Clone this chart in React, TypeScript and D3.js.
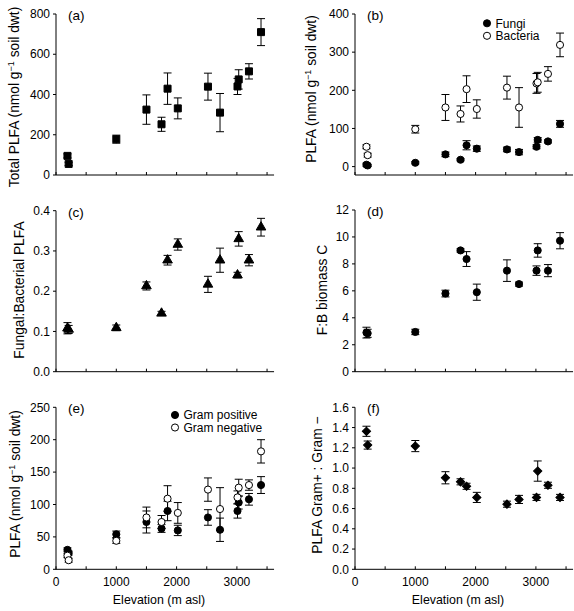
import React from "react";
import * as d3 from "d3";

// ---------- data ----------
const elevation = [190, 210, 1000, 1500, 1750, 1850, 2020, 2520, 2720, 3010, 3030, 3200, 3400];

const totalPLFA = [95, 55, 178, 325, 252, 429, 331, 439, 310, 440, 475, 515, 710];
const totalPLFAErr = [10, 8, 20, 73, 35, 78, 52, 67, 95, 40, 48, 38, 67];

const fungi = [5, 3, 10, 32, 18, 56, 47, 45, 38, 52, 70, 66, 112];
const fungiErr = [4, 3, 3, 6, 3, 12, 7, 6, 7, 5, 6, 4, 9];
const bacteria = [52, 30, 98, 155, 138, 203, 151, 207, 155, 218, 221, 243, 319];
const bacteriaErr = [5, 5, 10, 34, 21, 35, 24, 30, 52, 26, 26, 19, 31];

const fbPLFA = [0.108, 0.105, 0.109, 0.213, 0.145, 0.277, 0.316, 0.217, 0.277, 0.24, 0.33, 0.277, 0.359];
const fbPLFAErr = [0.014, 0.01, 0.007, 0.01, 0.005, 0.012, 0.014, 0.02, 0.03, 0.007, 0.018, 0.014, 0.022];

const fbBiomassC = [2.9, 2.85, 2.95, 5.8, 9.0, 8.36, 5.9, 7.5, 6.5, 7.5, 9.0, 7.5, 9.72];
const fbBiomassCErr = [0.4, 0.3, 0.2, 0.25, 0.12, 0.55, 0.6, 0.8, 0.15, 0.35, 0.5, 0.45, 0.6];

const gramPos = [30, 25, 54, 73, 63, 90, 60, 80, 61, 90, 103, 108, 130];
const gramPosErr = [3, 3, 5, 17, 6, 15, 8, 12, 18, 11, 10, 9, 13];
const gramNeg = [21, 14, 44, 80, 73, 109, 87, 123, 93, 111, 126, 130, 182];
const gramNegErr = [3, 3, 4, 16, 10, 20, 16, 18, 33, 10, 13, 8, 18];

const gramRatio = [1.363, 1.227, 1.217, 0.904, 0.864, 0.82, 0.71, 0.643, 0.69, 0.71, 0.97, 0.83, 0.71];
const gramRatioErr = [0.05, 0.04, 0.055, 0.06, 0.03, 0.03, 0.05, 0.03, 0.04, 0.03, 0.1, 0.03, 0.03];

const xTicks = [0, 500, 1000, 1500, 2000, 2500, 3000, 3500];
const xTickLabels = [0, 1000, 2000, 3000];

const ticksA = [0, 200, 400, 600, 800];
const ticksB = [0, 100, 200, 300, 400];
const ticksC = [0, 0.1, 0.2, 0.3, 0.4];
const ticksD = [0, 2, 4, 6, 8, 10, 12];
const ticksE = [0, 50, 100, 150, 200, 250];
const ticksF = [0, 0.2, 0.4, 0.6, 0.8, 1.0, 1.2, 1.4, 1.6];

const FONT = "'Liberation Sans', Arial, Helvetica, sans-serif";

type Shape = "square" | "circle" | "triangle" | "diamond";
type Series = { values: number[]; errors: number[]; shape: Shape; filled: boolean };
type LegendItem = { label: string; filled: boolean };

const symbolPath = (shape: Shape) => {
  if (shape === "square") return d3.symbol().type(d3.symbolSquare).size(49)()!;
  if (shape === "circle") return d3.symbol().type(d3.symbolCircle).size(40)()!;
  if (shape === "triangle") return d3.symbol().type(d3.symbolTriangle).size(40)()!;
  return d3.symbol().type(d3.symbolSquare).size(34)()!;
};

type PanelProps = {
  x0: number;
  yTop: number;
  yBottom: number;
  yDomain: [number, number];
  yTicks: number[];
  fmt: (v: number) => string;
  tag: string;
  yLabel: React.ReactNode;
  yLabelX: number;
  yLabelY: number;
  series: Series[];
  showXLabels: boolean;
  legend?: { items: LegendItem[]; x: number; y: number };
};

function Panel(p: PanelProps) {
  const pxPerM = 0.0603;
  const x = d3.scaleLinear().domain([0, 3500]).range([p.x0, p.x0 + 3500 * pxPerM]);
  const y = d3.scaleLinear().domain(p.yDomain).range([p.yBottom, p.yTop]);
  const xEnd = x(3500) + 7;
  const yAxisTop = y(p.yTicks[p.yTicks.length - 1]);
  const cap = 4;
  return (
    <g fontFamily={FONT} fill="#000">
      {/* axes */}
      <line x1={p.x0} x2={p.x0} y1={yAxisTop} y2={p.yBottom} stroke="#000" strokeWidth={1} />
      <line x1={p.x0} x2={xEnd} y1={p.yBottom} y2={p.yBottom} stroke="#000" strokeWidth={1} />
      {p.yTicks.map((t) => (
        <g key={"yt" + t}>
          <line x1={p.x0 - 3} x2={p.x0} y1={y(t)} y2={y(t)} stroke="#000" />
          <text x={p.x0 - 6} y={y(t)} dy="0.35em" textAnchor="end" fontSize={12}>
            {p.fmt(t)}
          </text>
        </g>
      ))}
      {xTicks.map((t) => (
        <line key={"xt" + t} x1={x(t)} x2={x(t)} y1={p.yBottom} y2={p.yBottom - 3} stroke="#000" />
      ))}
      {p.showXLabels &&
        xTickLabels.map((t) => (
          <text key={"xl" + t} x={x(t)} y={p.yBottom + 17} textAnchor="middle" fontSize={12}>
            {t}
          </text>
        ))}
      {p.showXLabels && (
        <text x={p.x0 + 103} y={p.yBottom + 35} textAnchor="middle" fontSize={12.4}>
          Elevation (m asl)
        </text>
      )}
      <text
        transform={`translate(${p.yLabelX},${p.yLabelY}) rotate(-90)`}
        textAnchor="middle"
        fontSize={13.8}
      >
        {p.yLabel}
      </text>
      <text x={p.x0 + 12} y={p.yTop + 6} fontSize={13.5}>
        {p.tag}
      </text>
      {/* error bars */}
      {p.series.map((s, si) =>
        s.values.map((v, i) => {
          const cx = x(elevation[i]);
          const lo = y(v - s.errors[i]);
          const hi = y(v + s.errors[i]);
          return (
            <g key={`e${si}-${i}`} stroke="#000" strokeWidth={1}>
              <line x1={cx} x2={cx} y1={lo} y2={hi} />
              <line x1={cx - cap} x2={cx + cap} y1={lo} y2={lo} />
              <line x1={cx - cap} x2={cx + cap} y1={hi} y2={hi} />
            </g>
          );
        })
      )}
      {/* markers */}
      {p.series.map((s, si) =>
        s.values.map((v, i) => (
          <path
            key={`m${si}-${i}`}
            d={symbolPath(s.shape)}
            transform={`translate(${x(elevation[i])},${y(v)})${s.shape === "diamond" ? " rotate(45)" : ""}`}
            fill={s.filled ? "#000" : "#fff"}
            stroke="#000"
            strokeWidth={1}
          />
        ))
      )}
      {p.legend &&
        p.legend.items.map((it, i) => (
          <g key={"lg" + i}>
            <path
              d={symbolPath("circle")}
              transform={`translate(${p.legend!.x},${p.legend!.y + i * 12.5})`}
              fill={it.filled ? "#000" : "#fff"}
              stroke="#000"
            />
            <text x={p.legend!.x + 8.5} y={p.legend!.y + i * 12.5} dy="0.35em" fontSize={12}>
              {it.label}
            </text>
          </g>
        ))}
    </g>
  );
}

const plfaLabel = (prefix: string) => (
  <>
    {prefix + " (nmol g"}
    <tspan dy={-5} fontSize={9}>
      −1
    </tspan>
    <tspan dy={5}>{" soil dwt)"}</tspan>
  </>
);

export default function App() {
  const L = 56;
  const R = 355;
  const f0 = (v: number) => d3.format("d")(v);
  const f1 = (v: number) => d3.format(".1f")(v);
  return (
    <div style={{ position: "absolute", left: 0, top: 0 }}>
      <svg width={574} height={611} style={{ display: "block", background: "#fff" }}>
        <Panel
          x0={L} yTop={14} yBottom={175} yDomain={[0, 800]} yTicks={ticksA} fmt={f0}
          tag="(a)" yLabel={plfaLabel("Total PLFA")} yLabelX={19} yLabelY={97}
          series={[{ values: totalPLFA, errors: totalPLFAErr, shape: "square", filled: true }]}
          showXLabels={false}
        />
        <Panel
          x0={R} yTop={14} yBottom={175} yDomain={[-22, 400]} yTicks={ticksB} fmt={f0}
          tag="(b)" yLabel={plfaLabel("PLFA")} yLabelX={316} yLabelY={89}
          series={[
            { values: bacteria, errors: bacteriaErr, shape: "circle", filled: false },
            { values: fungi, errors: fungiErr, shape: "circle", filled: true },
          ]}
          showXLabels={false}
          legend={{ items: [{ label: "Fungi", filled: true }, { label: "Bacteria", filled: false }], x: 487, y: 23.3 }}
        />
        <Panel
          x0={L} yTop={210.7} yBottom={371.7} yDomain={[0, 0.4]} yTicks={ticksC} fmt={f1}
          tag="(c)" yLabel="Fungal:Bacterial PLFA" yLabelX={24} yLabelY={290}
          series={[{ values: fbPLFA, errors: fbPLFAErr, shape: "triangle", filled: true }]}
          showXLabels={false}
        />
        <Panel
          x0={R} yTop={210} yBottom={371.7} yDomain={[0, 12]} yTicks={ticksD} fmt={f0}
          tag="(d)" yLabel="F:B biomass C" yLabelX={327} yLabelY={290}
          series={[{ values: fbBiomassC, errors: fbBiomassCErr, shape: "circle", filled: true }]}
          showXLabels={false}
        />
        <Panel
          x0={L} yTop={407.3} yBottom={569.3} yDomain={[0, 250]} yTicks={ticksE} fmt={f0}
          tag="(e)" yLabel={plfaLabel("PLFA")} yLabelX={20} yLabelY={484}
          series={[
            { values: gramPos, errors: gramPosErr, shape: "circle", filled: true },
            { values: gramNeg, errors: gramNegErr, shape: "circle", filled: false },
          ]}
          showXLabels={true}
          legend={{ items: [{ label: "Gram positive", filled: true }, { label: "Gram negative", filled: false }], x: 175, y: 415 }}
        />
        <Panel
          x0={R} yTop={407.3} yBottom={569.3} yDomain={[0, 1.6]} yTicks={ticksF} fmt={f1}
          tag="(f)" yLabel="PLFA Gram+ : Gram −" yLabelX={322} yLabelY={485}
          series={[{ values: gramRatio, errors: gramRatioErr, shape: "diamond", filled: true }]}
          showXLabels={true}
        />
      </svg>
    </div>
  );
}
